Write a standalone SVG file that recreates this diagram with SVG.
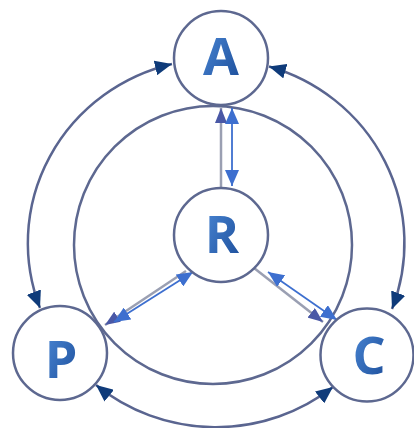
<svg xmlns="http://www.w3.org/2000/svg" width="414" height="428" viewBox="0 0 414 428">
  <defs>
    <linearGradient id="letterFill" x1="0" y1="0" x2="1" y2="1">
      <stop offset="0" stop-color="#4d8ad8"/>
      <stop offset="1" stop-color="#1b4c98"/>
    </linearGradient>
    <marker id="navyHead" markerUnits="userSpaceOnUse" markerWidth="17" markerHeight="15" refX="17" refY="7.5" orient="auto-start-reverse">
      <path d="M0,0 L17,7.5 L0,15 z" fill="#0f3b7a"/>
    </marker>
    <marker id="grayHead" markerUnits="userSpaceOnUse" markerWidth="15" markerHeight="12" refX="15" refY="6" orient="auto-start-reverse">
      <path d="M0,0 L15,6 L0,12 z" fill="#4a58a6"/>
    </marker>
    <marker id="blueHead" markerUnits="userSpaceOnUse" markerWidth="16" markerHeight="14" refX="16" refY="7" orient="auto-start-reverse">
      <path d="M0,0 L16,7 L0,14 z" fill="#3d6fcf"/>
    </marker>
  </defs>
  <style>
    .ring { fill: none; stroke: #5d6890; stroke-width: 2.5; }
    .node { fill: #ffffff; stroke: #5d6890; stroke-width: 2.5; }
    .arc { fill: none; stroke: #5a6590; stroke-width: 2.5; marker-start: url(#navyHead); marker-end: url(#navyHead); }
    .spoke { fill: none; stroke: #9a9fb2; stroke-width: 2.5; marker-end: url(#grayHead); }
    .dual { fill: none; stroke: #3d6fcf; stroke-width: 1.8; marker-start: url(#blueHead); marker-end: url(#blueHead); }
    .label { font-family: "Open Sans", "Liberation Sans", sans-serif; font-weight: 700; font-size: 52px; fill: url(#letterFill); text-anchor: middle; }
  </style>

  <rect width="414" height="428" fill="#ffffff"/>

  <!-- inner ring around R -->
  <circle class="ring" cx="213" cy="245" r="139"/>

  <g id="connectors">
    <!-- outer arcs between the corner nodes -->
    <path class="arc" d="M172,64 A188,184 0 0 0 40,308"/>
    <path class="arc" d="M269,66.5 A188,184 0 0 1 392,309"/>
    <path class="arc" d="M96,385 A188,184 0 0 0 333,387"/>
    <!-- spokes from R -->
    <path class="spoke" d="M221,188 L221,108"/>
    <path class="dual" d="M232,108 L232,186"/>
    <path class="spoke" d="M186,271 L105,325"/>
    <path class="dual" d="M193,272 L114,322"/>
    <path class="spoke" d="M254,268 L323,322"/>
    <path class="dual" d="M268,272 L337,320"/>
  </g>

  <g id="node-A">
    <circle class="node" cx="221" cy="58" r="47"/>
    <text class="label" x="221" y="75">A</text>
  </g>
  <g id="node-R">
    <circle class="node" cx="221" cy="235" r="47"/>
    <text class="label" x="222" y="253">R</text>
  </g>
  <g id="node-P">
    <circle class="node" cx="60" cy="353" r="47"/>
    <text class="label" x="61" y="378">P</text>
  </g>
  <g id="node-C">
    <circle class="node" cx="367" cy="355" r="46.5"/>
    <text class="label" x="369" y="374">C</text>
  </g>
</svg>
